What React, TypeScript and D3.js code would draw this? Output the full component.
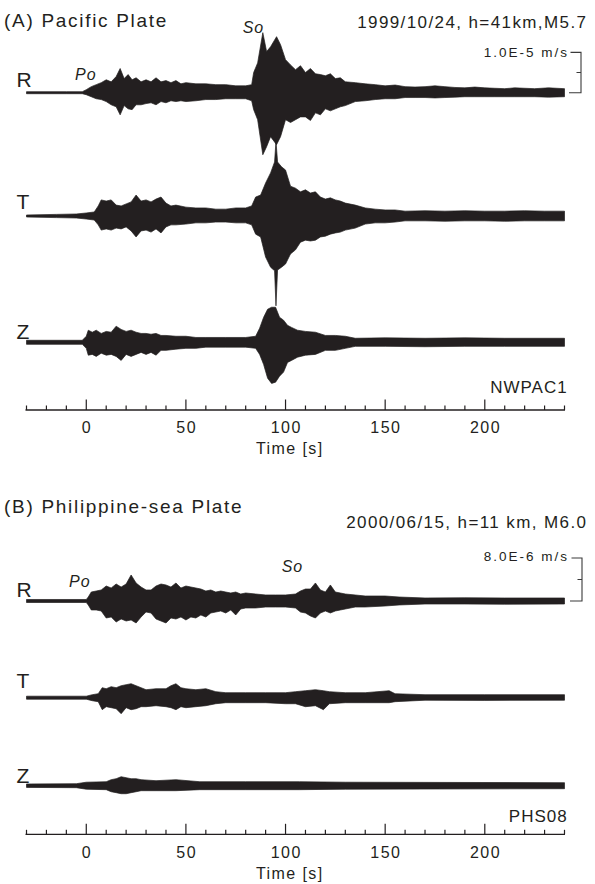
import React from "react";
import * as d3 from "d3";

// Each sample: [time (s), upper envelope, lower envelope], amplitudes in 1e-6 m/s
type Sample = [number, number, number];

// (A) Pacific Plate — NWPAC1, 1999/10/24
const pacificR: Sample[] = [
  [-30, 0.25, 0.25], [-10, 0.25, 0.25], [-2, 0.25, 0.25], [0, 0.75, 0.5], [2.5, 1.5, 1], [5, 2, 1.5],
  [7.5, 2.5, 1.7], [10, 3.2, 2.2], [12.5, 2.7, 3], [15, 4, 3.5], [17, 6, 5.5], [19, 3.5, 3.2],
  [21, 4.5, 4], [23, 3.2, 4.2], [25, 3.7, 3], [27.5, 2.7, 3], [30, 3.2, 2.7], [32.5, 2.7, 2.5],
  [35, 3.7, 3], [37.5, 2.7, 2.2], [40, 3, 2.5], [42.5, 2.5, 2], [45, 3, 2.2], [47.5, 2.2, 2],
  [50, 2.5, 2.2], [55, 2.2, 2], [60, 2.2, 1.7], [65, 2, 1.7], [70, 2, 1.5], [75, 1.7, 1.5],
  [80, 1.7, 1.5], [83, 2, 2], [84, 5, 4.2], [86, 7.4, 6.7], [88.6, 14.9, 15.4], [90.5, 10.2, 13.4],
  [92.5, 11.4, 10.9], [95.5, 13.9, 12.9], [97.5, 11.9, 10.9], [100, 8.2, 6.7], [102.5, 6.9, 7.4],
  [105, 5.7, 6.7], [107.5, 6.7, 6], [110, 5, 6], [112.5, 6, 6.9], [115, 4.7, 5], [117.5, 4.5, 5.5],
  [120, 4.2, 4], [122.5, 4.7, 4.5], [125, 3.5, 4], [127.5, 3.7, 3.5], [130, 2.7, 3.2], [135, 2.5, 2.2],
  [140, 2.2, 2], [145, 2, 1.7], [150, 1.7, 1.5], [155, 1.9, 1.5], [160, 1.5, 1.2], [165, 1.4, 1.2],
  [170, 1.5, 1.2], [175, 1.7, 1.3], [180, 1.5, 1.2], [185, 1.3, 1.1], [190, 1.2, 1], [195, 1.4, 1],
  [200, 1.2, 1], [205, 1.1, 1], [210, 1, 1], [215, 1.2, 1], [225, 1, 1], [232, 1.2, 1.1], [240, 1, 1],
];

const pacificT: Sample[] = [
  [-30, 0.25, 0.25], [-15, 0.4, 0.4], [-5, 0.5, 0.5], [0, 0.75, 0.75], [4, 1, 1], [6, 2.5, 2.2],
  [7.5, 4, 3.5], [10, 3.7, 3.2], [12.5, 4, 3.5], [15, 2.7, 3], [17.5, 2.5, 3.2], [20, 3, 2.7],
  [22.5, 3.5, 3.7], [25, 5.2, 5.2], [27.5, 3.7, 3.7], [30, 4, 3.5], [32.5, 3.5, 4], [35, 4.2, 3.2],
  [37.5, 4.7, 4.2], [40, 3.2, 2.7], [42.5, 2.5, 2.2], [45, 2.7, 2.2], [50, 2.2, 2], [55, 2, 1.7],
  [60, 2, 1.7], [65, 1.7, 1.5], [70, 1.7, 1.5], [75, 2, 1.7], [80, 2, 1.7], [83, 2.5, 2.2],
  [85, 4.7, 4.5], [87.5, 5.2, 5.2], [90, 8.2, 10.2], [92.5, 10.7, 12.7], [94.5, 13.4, 13.6],
  [95.2, 18.6, 22.3], [96, 13.4, 13.4], [98, 12.2, 12.7], [100, 11.4, 11.9], [102.5, 7.4, 9.4],
  [105, 6.9, 8.4], [107.5, 6, 6.5], [110, 6.5, 6], [112.5, 5.7, 6.2], [115, 6, 6], [117.5, 4.7, 5.2],
  [120, 4.2, 5], [122.5, 4.5, 4.5], [125, 4, 4.2], [127.5, 3.7, 4], [130, 3.2, 3.5], [135, 2.7, 3],
  [140, 2, 2], [145, 1.7, 1.7], [150, 1.5, 1.7], [155, 1.5, 1.5], [160, 1.2, 1.2], [170, 1.3, 1.2],
  [180, 1.2, 1.3], [190, 1.3, 1.2], [200, 1.2, 1.2], [210, 1.2, 1.3], [220, 1.3, 1.2], [230, 1.2, 1.2],
  [240, 1.2, 1.2],
];

const pacificZ: Sample[] = [
  [-30, 0.5, 0.5], [-2, 0.5, 0.5], [0, 1.5, 1.5], [1, 3, 3.2], [3, 2.5, 3], [5, 3, 3.5],
  [7.5, 2.2, 2.7], [10, 2.7, 3.2], [12.5, 2.5, 3], [15, 4, 3.5], [17.5, 3.2, 4.5], [20, 2.7, 3],
  [22.5, 3, 3.5], [25, 2.5, 3], [27.5, 2.2, 2.5], [30, 2.2, 3], [32.5, 2, 2.5], [35, 2.2, 3.2],
  [37.5, 1.7, 2], [40, 1.7, 2], [45, 1.5, 1.7], [50, 1.5, 1.5], [55, 1.2, 1.5], [60, 1.2, 1.2],
  [70, 1.2, 1.2], [80, 1.2, 1.2], [85, 1.5, 1.5], [87, 3.5, 3], [89, 6.2, 5.5], [91, 8.2, 8.9],
  [93, 8.7, 10.2], [95, 8.7, 9.9], [97, 6.2, 8.4], [99, 5.5, 7.4], [101, 4.2, 5], [103, 3.7, 4.5],
  [106, 3, 3.7], [110, 2.7, 3.2], [115, 2.5, 3], [120, 1.7, 2], [125, 1.7, 2], [130, 1.5, 1.5],
  [135, 1, 1], [150, 1.1, 1], [170, 1, 1.1], [190, 1.1, 1], [210, 1, 1], [240, 1, 1],
];

// (B) Philippine-sea Plate — PHS08, 2000/06/15
const philippineR: Sample[] = [
  [-30, 0.28, 0.28], [0, 0.28, 0.28], [1, 0.74, 0.74], [2.5, 1.67, 1.67], [5, 1.86, 1.67],
  [7.5, 2.05, 1.86], [10, 2.79, 3.16], [12.5, 2.42, 2.98], [15, 3.16, 3.9], [17.5, 2.6, 3.35],
  [20, 3.16, 3.72], [22.5, 4.84, 3.53], [25, 3.35, 4.09], [27.5, 2.6, 2.98], [30, 2.05, 2.05],
  [32.5, 2.05, 2.23], [35, 2.79, 3.35], [37.5, 3.16, 3.72], [40, 2.98, 4.09], [42.5, 2.6, 3.16],
  [45, 3.35, 3.35], [47.5, 2.42, 2.98], [50, 2.79, 3.53], [52.5, 2.6, 2.98], [55, 2.42, 3.16],
  [57.5, 2.23, 2.6], [60, 1.86, 2.98], [62.5, 2.05, 2.23], [65, 1.67, 2.05], [67.5, 1.86, 1.86],
  [70, 1.67, 2.23], [72.5, 1.49, 1.67], [75, 1.67, 2.6], [77.5, 1.3, 1.49], [80, 1.49, 1.3],
  [85, 1.3, 1.3], [90, 1.12, 1.12], [95, 1.12, 1.12], [100, 1.12, 1.12], [105, 1.3, 1.3],
  [107.5, 1.86, 2.05], [110, 2.23, 2.23], [112.5, 2.23, 2.79], [115, 3.35, 3.16], [117.5, 2.05, 2.23],
  [120, 1.67, 1.86], [122.5, 2.98, 2.23], [125, 1.67, 1.86], [127.5, 1.49, 1.67], [130, 1.3, 1.49],
  [135, 1.12, 1.12], [140, 0.93, 1.12], [150, 0.93, 0.93], [157, 0.74, 0.74], [170, 0.56, 0.56],
  [190, 0.6, 0.56], [210, 0.56, 0.6], [240, 0.56, 0.56],
];

const philippineT: Sample[] = [
  [-30, 0.28, 0.28], [0, 0.28, 0.28], [3, 0.56, 0.56], [6, 0.74, 0.74], [8, 1.86, 2.23],
  [10, 1.67, 1.67], [12.5, 2.05, 1.86], [15, 1.86, 2.05], [17.5, 2.23, 2.98], [20, 2.42, 1.86],
  [22.5, 2.6, 2.23], [25, 2.23, 2.05], [27.5, 1.86, 1.67], [30, 1.49, 1.67], [35, 1.67, 1.49],
  [40, 1.67, 1.67], [42.5, 2.23, 1.86], [45, 2.6, 2.23], [47.5, 1.86, 1.67], [50, 1.67, 1.86],
  [55, 1.49, 1.67], [60, 1.67, 1.49], [65, 1.12, 1.12], [70, 0.93, 0.93], [80, 0.93, 0.93],
  [90, 0.93, 0.93], [100, 0.93, 1.12], [105, 1.12, 1.12], [110, 1.3, 1.67], [115, 1.49, 1.49],
  [119, 1.3, 2.23], [122, 1.12, 1.12], [130, 0.93, 0.93], [140, 0.93, 0.93], [152, 1.3, 0.93],
  [155, 0.74, 0.74], [170, 0.56, 0.47], [200, 0.56, 0.5], [240, 0.56, 0.47],
];

const philippineZ: Sample[] = [
  [-30, 0.32, 0.32], [-5, 0.37, 0.37], [0, 0.65, 0.65], [10, 0.74, 0.74], [12.5, 1.12, 1.12],
  [15, 1.3, 1.3], [17.5, 1.67, 1.49], [20, 1.49, 1.49], [22.5, 1.3, 1.3], [25, 1.3, 1.12],
  [27.5, 1.12, 0.93], [35, 0.93, 0.93], [45, 1.12, 0.93], [57, 0.74, 0.74], [80, 0.74, 0.74],
  [107, 0.74, 0.74], [130, 0.65, 0.65], [240, 0.56, 0.56],
];

const componentNames = ["R", "T", "Z"];
const timeDomain: [number, number] = [-30, 240];
const majorTicks = [0, 50, 100, 150, 200];
const minorTicks = d3.range(-30, 241, 10);

const INK = "#231f20";
const FONT = "'Liberation Sans', Arial, Helvetica, sans-serif";

const x = d3.scaleLinear().domain(timeDomain).range([26.5, 564.5]);

interface PanelSpec {
  title: string;
  titleY: number;
  event: string;
  eventY: number;
  station: string;
  stationY: number;
  traces: Sample[][];
  baselines: number[];
  labelBaselines: number[];
  pxPerUnit: number;
  scaleValue: number;
  scaleLabel: string;
  scaleLabelY: number;
  bracketX: number;
  po: [number, number];
  so: [number, number];
  axisY: number;
  tickLabelY: number;
  axisTitleY: number;
}

const panels: PanelSpec[] = [
  {
    title: "(A) Pacific Plate",
    titleY: 27,
    event: "1999/10/24, h=41km,M5.7",
    eventY: 28.3,
    station: "NWPAC1",
    stationY: 392.7,
    traces: [pacificR, pacificT, pacificZ],
    baselines: [92.7, 216, 342.3],
    labelBaselines: [87.3, 209.3, 339.3],
    pxPerUnit: 4.03,
    scaleValue: 10,
    scaleLabel: "1.0E-5 m/s",
    scaleLabelY: 57.3,
    bracketX: 581,
    po: [75, 80],
    so: [242.7, 32.7],
    axisY: 410,
    tickLabelY: 433.3,
    axisTitleY: 454.3,
  },
  {
    title: "(B) Philippine-sea Plate",
    titleY: 513,
    event: "2000/06/15, h=11 km, M6.0",
    eventY: 528,
    station: "PHS08",
    stationY: 821.7,
    traces: [philippineR, philippineT, philippineZ],
    baselines: [601, 697.7, 785.7],
    labelBaselines: [596.7, 688.3, 782.7],
    pxPerUnit: 5.375,
    scaleValue: 8,
    scaleLabel: "8.0E-6 m/s",
    scaleLabelY: 560.7,
    bracketX: 582,
    po: [69, 587.3],
    so: [281.7, 571.7],
    axisY: 834.3,
    tickLabelY: 858.3,
    axisTitleY: 878.5,
  },
];

function Trace({ data, base, pxPerUnit }: { data: Sample[]; base: number; pxPerUnit: number }) {
  const y = d3.scaleLinear().domain([0, 1]).range([base, base - pxPerUnit]);
  const area = d3
    .area<Sample>()
    .x((d) => x(d[0]))
    .y0((d) => y(-d[2]))
    .y1((d) => y(d[1]))
    .curve(d3.curveLinear);
  return <path d={area(data) ?? ""} fill={INK} stroke={INK} strokeWidth={0.7} strokeLinejoin="miter" />;
}

function Panel({ p }: { p: PanelSpec }) {
  const yR = d3.scaleLinear().domain([0, 1]).range([p.baselines[0], p.baselines[0] - p.pxPerUnit]);
  const bTop = yR(p.scaleValue);
  const bMid = yR(p.scaleValue / 2);
  const bBot = yR(0);
  const bx = p.bracketX;
  return (
    <g>
      <text x={4} y={p.titleY} fontSize={19} letterSpacing={1.7} fill={INK}>
        {p.title}
      </text>
      <text x={587.4} y={p.eventY} fontSize={17} letterSpacing={1.4} textAnchor="end" fill={INK}>
        {p.event}
      </text>

      {/* amplitude scale bracket */}
      <text x={569} y={p.scaleLabelY} fontSize={13.5} letterSpacing={2} textAnchor="end" fill={INK}>
        {p.scaleLabel}
      </text>
      <path
        d={`M${bx - 10.5},${bTop}H${bx}V${bBot}H${bx - 12}M${bx},${bMid}H${bx - 4.5}`}
        fill="none"
        stroke="#3a3a3a"
        strokeWidth={1.1}
      />

      {p.traces.map((t, i) => (
        <g key={i}>
          <Trace data={t} base={p.baselines[i]} pxPerUnit={p.pxPerUnit} />
          <text x={16.5} y={p.labelBaselines[i]} fontSize={21} fill={INK}>
            {componentNames[i]}
          </text>
        </g>
      ))}

      <text x={p.po[0]} y={p.po[1]} fontSize={16} fontStyle="italic" letterSpacing={1} fill={INK}>
        Po
      </text>
      <text x={p.so[0]} y={p.so[1]} fontSize={16} fontStyle="italic" letterSpacing={1} fill={INK}>
        So
      </text>

      <text x={567.7} y={p.stationY} fontSize={17} letterSpacing={1} textAnchor="end" fill={INK}>
        {p.station}
      </text>

      {/* time axis */}
      <line x1={x(timeDomain[0]) - 1} x2={x(timeDomain[1]) + 0.5} y1={p.axisY} y2={p.axisY} stroke={INK} strokeWidth={1.3} />
      {minorTicks.map((t) => {
        const major = majorTicks.includes(t);
        return (
          <line
            key={t}
            x1={x(t)}
            x2={x(t)}
            y1={p.axisY}
            y2={p.axisY - (major ? 10.5 : 4.5)}
            stroke={INK}
            strokeWidth={1.2}
          />
        );
      })}
      {majorTicks.map((t) => (
        <text key={t} x={x(t) + 0.75} y={p.tickLabelY} fontSize={16} letterSpacing={1.5} textAnchor="middle" fill={INK}>
          {t}
        </text>
      ))}
      <text x={256} y={p.axisTitleY} fontSize={16} letterSpacing={1.4} fill={INK}>
        Time [s]
      </text>
    </g>
  );
}

export default function App() {
  return (
    <svg
      width={595}
      height={884}
      viewBox="0 0 595 884"
      style={{ position: "absolute", left: 0, top: 0, display: "block", background: "#fff" }}
      fontFamily={FONT}
    >
      <rect width={595} height={884} fill="#fff" />
      {panels.map((p, i) => (
        <Panel key={i} p={p} />
      ))}
    </svg>
  );
}
